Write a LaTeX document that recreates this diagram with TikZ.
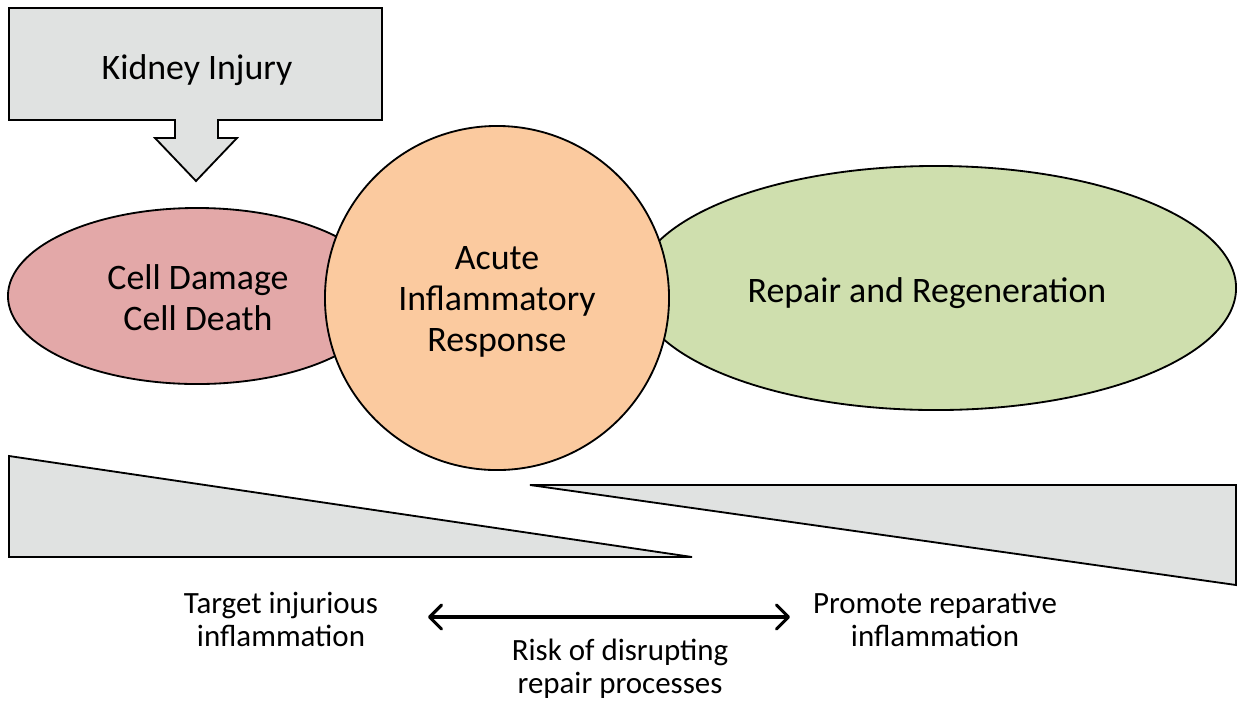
\documentclass[tikz,border=0pt]{standalone}
\usepackage{fontspec}
\setmainfont{Carlito}
\usetikzlibrary{positioning, arrows.meta, shapes.geometric}

\definecolor{boxgray}{HTML}{E0E2E1}
\definecolor{damagered}{HTML}{E3A8A8}
\definecolor{acuteorange}{HTML}{FBCA9F}
\definecolor{repairgreen}{HTML}{CFDFAE}

\tikzset{
  outline/.style={draw=black, line width=1.3pt},
  bigtext/.style={font=\fontsize{25.5}{29}\selectfont, align=center},
  smalltext/.style={font=\fontsize{22}{23.5}\selectfont, align=center},
}

\begin{document}
\begin{tikzpicture}[x=0.025cm, y=-0.025cm]
  \useasboundingbox (0,0) rectangle (1238,700);

  % Injury box with arrow
  \draw[outline, fill=boxgray, line join=miter]
    (9,8) -- (382,8) -- (382,120) -- (218,120) -- (218,138) -- (237,138)
    -- (196,181) -- (155,138) -- (175,138) -- (175,120) -- (9,120) -- cycle;
  \node[bigtext] (injury) at (197,70) {Kidney Injury};

  % Damage, repair and inflammation
  \node[outline, fill=damagered, ellipse, minimum width=9.45cm, minimum height=4.4cm]
    (damage) at (197,296) {};
  \node[bigtext] (damagetxt) at (198,298) {Cell Damage\\Cell Death};

  \node[outline, fill=repairgreen, ellipse, minimum width=15cm, minimum height=6.1cm]
    (repair) at (936,288) {};
  \node[bigtext] (repairtxt) at (927,293) {Repair and Regeneration};

  \node[outline, fill=acuteorange, circle, minimum size=8.6cm]
    (acute) at (497,298) {};
  \node[bigtext] (acutetxt) at (497,302) {Acute\\Inflammatory\\Response};

  % Wedges
  \draw[outline, fill=boxgray] (9,456) -- (9,557) -- (692,557) -- cycle;
  \draw[outline, fill=boxgray] (530,485) -- (1236,485) -- (1236,585) -- cycle;

  % Labels and arrow
  \node[smalltext] (target) at (281,619) {Target injurious\\inflammation};
  \node[smalltext] (promote) at (935,619) {Promote reparative\\inflammation};
  \node[smalltext] (risk) at (620,669) {Risk of disrupting\\repair processes};
  \coordinate (arrL) at (428,617);
  \coordinate (arrR) at (790,617);
  \draw[line width=2.2pt, {Straight Barb[length=3mm,width=6mm,round]}-{Straight Barb[length=3mm,width=6mm,round]}]
    (arrL) -- (arrR);
\end{tikzpicture}
\end{document}
